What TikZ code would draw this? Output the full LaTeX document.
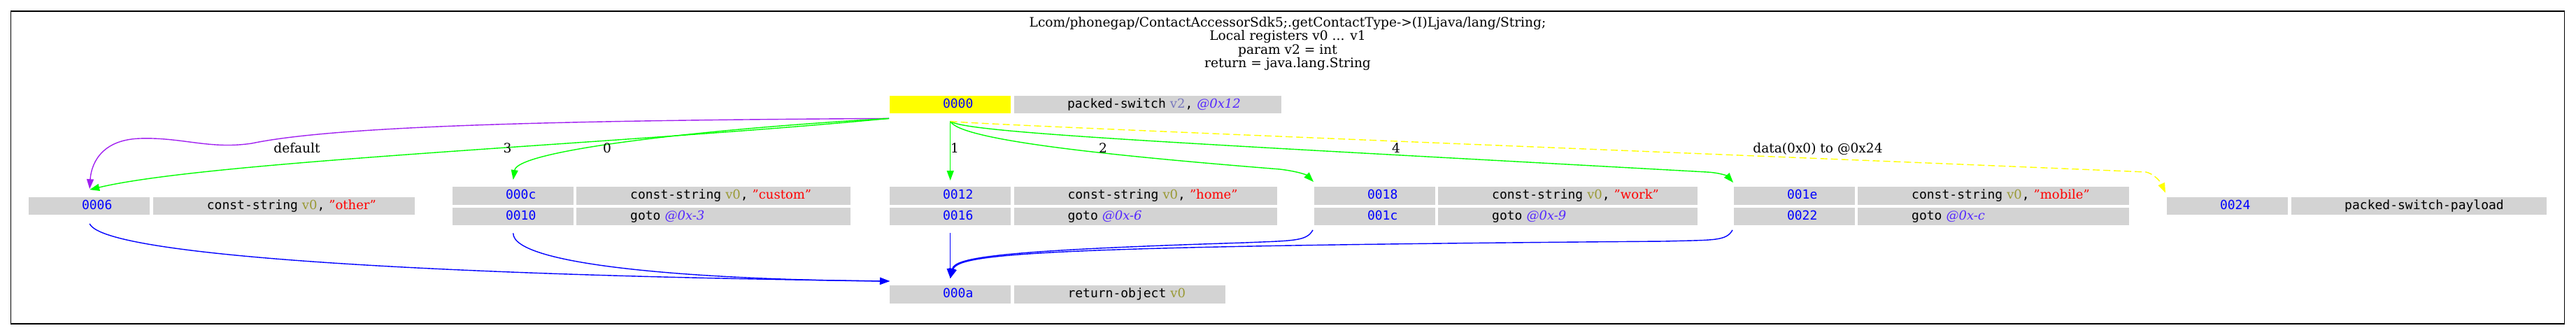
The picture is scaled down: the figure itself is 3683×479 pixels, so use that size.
\documentclass[tikz,border=0pt]{standalone}
\usepackage{fontspec}
\setmainfont{DejaVu Serif}
\newfontfamily\monof{DejaVu Sans Mono}
\usetikzlibrary{arrows.meta,calc}
\definecolor{cellgray}{HTML}{D3D3D3}
\definecolor{addrblue}{HTML}{0000FF}
\definecolor{regolive}{RGB}{153,153,51}
\definecolor{paramcol}{RGB}{120,120,190}
\definecolor{offcol}{RGB}{85,40,255}
\definecolor{gvgreen}{HTML}{00FF00}
\definecolor{gvpurple}{HTML}{A020F0}
\definecolor{gvyellow}{HTML}{FFFF00}
\definecolor{gvblue}{HTML}{0000FF}
\definecolor{gvred}{HTML}{FF0000}
\newcommand\rg[1]{{\rmfamily\color{regolive}#1}}
\newcommand\pv[1]{{\rmfamily\color{paramcol}#1}}
\newcommand\off[1]{{\rmfamily\itshape\color{offcol}#1}}
\newcommand\lit[1]{{\rmfamily\color{gvred}#1}}
\newcommand\cellfont{\monof\fontsize{18}{20}\selectfont}
\newcommand\labfont{\rmfamily\fontsize{18.6}{20}\selectfont}
\begin{document}
\begin{tikzpicture}[x=1pt,y=-1pt,
  cellbox/.style={fill=cellgray, inner xsep=0pt, inner ysep=0pt,
    text height=17.3pt, text depth=8pt, anchor=north west, font=\cellfont},
  addr/.style={cellbox, text width=173pt, align=center, text=addrblue},
  instr/.style={cellbox, align=left},
  edge/.style={line width=1.4pt, -{Triangle[length=14pt,width=10pt]}},
  elabel/.style={anchor=base, inner sep=0pt, font=\labfont},
  tline/.style={anchor=base, inner sep=0pt, font=\labfont}]
\useasboundingbox (0,0) rectangle (3683,479);
\draw[line width=1.3pt] (15.5,16) rectangle (3666.5,463);

% title
\node[tline] (t1) at (1841,38) {Lcom/phonegap/ContactAccessorSdk5;.getContactType->(I)Ljava/lang/String;};
\node[tline] (t2) at (1841,57.5) {Local registers v0 ... v1};
\node[tline] (t3) at (1841,77) {param v2 = int};
\node[tline] (t4) at (1841,96.5) {return = java.lang.String};

% blocks
\node[addr, fill=gvyellow] (c0000) at (1272,136.7) {\hspace*{22pt}0000};
\node[instr, text width=382.7pt] (i0000) at (1449.3,136.7) {\hspace*{76.5pt}packed-switch \pv{v2}, \off{@0x12}};

\node[addr] (c0006) at (41,281.7) {\hspace*{22pt}0006};
\node[instr, text width=374.3pt] (i0006) at (218.7,281.7) {\hspace*{77pt}const-string \rg{v0}, \lit{"other"}};

\node[addr] (c000c) at (647,267) {\hspace*{22pt}000c};
\node[instr, text width=392pt] (i000c) at (824,267) {\hspace*{77pt}const-string \rg{v0}, \lit{"custom"}};
\node[addr] (c0010) at (647,296.7) {\hspace*{22pt}0010};
\node[instr, text width=392pt] (i0010) at (824,296.7) {\hspace*{77pt}goto \off{@0x-3}};

\node[addr] (c0012) at (1272,267) {\hspace*{22pt}0012};
\node[instr, text width=376pt] (i0012) at (1449.3,267) {\hspace*{77pt}const-string \rg{v0}, \lit{"home"}};
\node[addr] (c0016) at (1272,296.7) {\hspace*{22pt}0016};
\node[instr, text width=376pt] (i0016) at (1449.3,296.7) {\hspace*{77pt}goto \off{@0x-6}};

\node[addr] (c0018) at (1879,267) {\hspace*{22pt}0018};
\node[instr, text width=370.7pt] (i0018) at (2056,267) {\hspace*{77pt}const-string \rg{v0}, \lit{"work"}};
\node[addr] (c001c) at (1879,296.7) {\hspace*{22pt}001c};
\node[instr, text width=370.7pt] (i001c) at (2056,296.7) {\hspace*{77pt}goto \off{@0x-9}};

\node[addr] (c001e) at (2479,267) {\hspace*{22pt}001e};
\node[instr, text width=388pt] (i001e) at (2656,267) {\hspace*{77pt}const-string \rg{v0}, \lit{"mobile"}};
\node[addr] (c0022) at (2479,296.7) {\hspace*{22pt}0022};
\node[instr, text width=388pt] (i0022) at (2656,296.7) {\hspace*{77pt}goto \off{@0x-c}};

\node[addr] (c0024) at (3098,281.7) {\hspace*{22pt}0024};
\node[instr, text width=365pt] (i0024) at (3276,281.7) {\hspace*{76pt}packed-switch-payload};

\node[addr] (c000a) at (1272,408) {\hspace*{22pt}000a};
\node[instr, text width=302.7pt] (i000a) at (1449.3,408) {\hspace*{77pt}return-object \rg{v0}};

% switch edges
\draw[edge, gvpurple] ($(c0000.south west)+(-1,7)$) .. controls (800,172) and (480,180) .. (360,205)
  .. controls (300,214) and (260,196) .. (200,198) .. controls (140,200) and (130,240) .. ($(c0006.north)+(0.5,-11.5)$);
\draw[edge, gvgreen] ($(c0000.south west)+(-1,7)$) .. controls (900,205) and (300,230) .. ($(c0006.north)+(0.5,-10.5)$);
\draw[edge, gvgreen] ($(c0000.south west)+(-1,7)$) .. controls (1000,185) and (740,215) .. ($(c000c.north)+(0,-10)$);
\draw[edge, gvgreen] ($(c0000.south)+(0,11)$) -- ($(c0012.north)+(0,-9)$);
\draw[edge, gvgreen] ($(c0000.south)+(0,11)$) .. controls (1372,200) and (1580,222) .. (1830,242)
  .. controls (1855,245) and (1868,250) .. ($(c0018.north west)+(-1,-7)$);
\draw[edge, gvgreen] ($(c0000.south)+(0,11)$) .. controls (1380,190) and (1700,205) .. (2440,246)
  .. controls (2460,247) and (2470,252) .. ($(c001e.north west)+(-1,-6)$);
\draw[edge, gvyellow, dash pattern=on 10pt off 5pt] ($(c0000.south)+(0,11)$) .. controls (1380,178) and (2500,222) .. (3068,246)
  .. controls (3078,248) and (3088,258) .. ($(c0024.north west)+(-2,-6)$);

\node[elabel] (ldef) at (424.5,218.5) {default};
\node[elabel] (l3) at (725.5,218.5) {3};
\node[elabel] (l0) at (868,218.5) {0};
\node[elabel] (l1) at (1365,218.5) {1};
\node[elabel] (l2) at (1577,218.5) {2};
\node[elabel] (l4) at (1996,218.5) {4};
\node[elabel] (ldata) at (2599,218.5) {data(0x0) to @0x24};

% return edges
\draw[edge, gvblue] ($(c0006.south)+(0.5,12.5)$) .. controls (150,370) and (700,395) .. ($(c000a.north west)+(0,-6)$);
\draw[edge, gvblue] ($(c0010.south)+(0,11)$) .. controls (733,380) and (1000,400) .. ($(c000a.north west)+(0,-6)$);
\draw[edge, gvblue] ($(c0016.south)+(0,11)$) -- ($(c000a.north)+(0,-10)$);
\draw[edge, gvblue] ($(c001c.south west)+(-2,6.5)$) .. controls (1868,345) and (1850,344) .. (1780,347)
  .. controls (1430,358) and (1365,368) .. ($(c000a.north)+(0,-10)$);
\draw[edge, gvblue] ($(c0022.south west)+(-2,6.5)$) .. controls (2468,345) and (2450,343) .. (2380,345)
  .. controls (1500,352) and (1370,362) .. ($(c000a.north)+(0,-10)$);
\end{tikzpicture}
\end{document}
